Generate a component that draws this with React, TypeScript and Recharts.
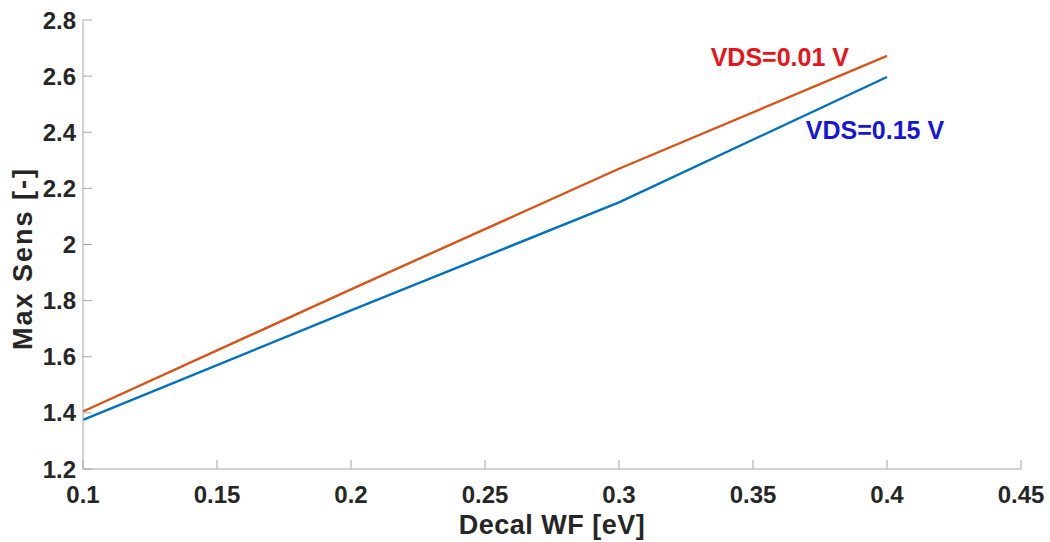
import { LineChart, Line, XAxis, YAxis, ReferenceDot, Label } from "recharts";

const decalWF = [0.1, 0.2, 0.3, 0.4];
const sensVds001 = [1.405, 1.84, 2.27, 2.672];
const sensVds015 = [1.375, 1.765, 2.15, 2.597];
const xTicks = [0.1, 0.15, 0.2, 0.25, 0.3, 0.35, 0.4, 0.45];
const yTicks = [1.2, 1.4, 1.6, 1.8, 2, 2.2, 2.4, 2.6, 2.8];

const data = decalWF.map((x, i) => ({ x, a: sensVds001[i], b: sensVds015[i] }));

const AXIS = "#a6a6a6";
const TEXT = "#262626";
const FONT = "'Liberation Sans', Arial, sans-serif";
const TICK_LEN = 9;

const fmt = (v: number) => String(+v.toFixed(2));

function BottomTick({ x, y, payload }: any) {
  return (
    <g>
      <line x1={x} x2={x} y1={y} y2={y - TICK_LEN} stroke={AXIS} />
      <text x={x} y={y + 25} textAnchor="middle" dominantBaseline="central" fill={TEXT} fontFamily={FONT} fontWeight="bold" fontSize={24}>
        {fmt(payload.value)}
      </text>
    </g>
  );
}

function LeftTick({ x, y, payload }: any) {
  return (
    <g>
      <line x1={x} x2={x + TICK_LEN} y1={y} y2={y} stroke={AXIS} />
      <text x={x - 7} y={y} textAnchor="end" dominantBaseline="central" fill={TEXT} fontFamily={FONT} fontWeight="bold" fontSize={24}>
        {fmt(payload.value)}
      </text>
    </g>
  );
}

function TopTick({ x, y }: any) {
  return <line x1={x} x2={x} y1={y} y2={y + TICK_LEN} stroke={AXIS} />;
}

function RightTick({ x, y }: any) {
  return <line x1={x} x2={x - TICK_LEN} y1={y} y2={y} stroke={AXIS} />;
}

function XTitle({ viewBox }: any) {
  const cx = viewBox.x + viewBox.width / 2;
  return (
    <text x={cx} y={viewBox.y + 56} textAnchor="middle" dominantBaseline="central" fill={TEXT} fontFamily={FONT} fontWeight="bold" fontSize={27} letterSpacing={0.5}>
      Decal WF [eV]
    </text>
  );
}

function YTitle({ viewBox }: any) {
  const cy = viewBox.y + viewBox.height / 2 + 14;
  return (
    <text transform={`translate(23, ${cy}) rotate(-90)`} textAnchor="middle" dominantBaseline="central" fill={TEXT} fontFamily={FONT} fontWeight="bold" fontSize={27} letterSpacing={2}>
      Max Sens [-]
    </text>
  );
}

export default function App() {
  return (
    <div style={{ position: "absolute", left: 0, top: 0, width: 1050, height: 542, background: "#fff" }}>
      <LineChart width={1050} height={542} data={data} margin={{ top: 20, right: 29, bottom: 0, left: 0 }}>
        <XAxis
          dataKey="x"
          type="number"
          domain={[0.1, 0.45]}
          ticks={xTicks}
          height={73}
          stroke={AXIS}
          tickSize={0}
          tickMargin={0}
          tickLine={false}
          tick={<BottomTick />}
          interval={0}
        >
          <Label content={<XTitle />} />
        </XAxis>
        <XAxis
          xAxisId="top"
          dataKey="x"
          type="number"
          orientation="top"
          domain={[0.1, 0.45]}
          ticks={xTicks}
          height={0}
          stroke={AXIS}
          tickSize={0}
          tickMargin={0}
          tickLine={false}
          tick={<TopTick />}
          interval={0}
        />
        <YAxis
          type="number"
          domain={[1.2, 2.8]}
          ticks={yTicks}
          width={83}
          stroke={AXIS}
          tickSize={0}
          tickMargin={0}
          tickLine={false}
          tick={<LeftTick />}
          interval={0}
        >
          <Label content={<YTitle />} />
        </YAxis>
        <YAxis
          yAxisId="right"
          orientation="right"
          type="number"
          domain={[1.2, 2.8]}
          ticks={yTicks}
          width={0}
          stroke={AXIS}
          tickSize={0}
          tickMargin={0}
          tickLine={false}
          tick={<RightTick />}
          interval={0}
        />
        <Line dataKey="a" stroke="#D95319" strokeWidth={2.4} dot={false} isAnimationActive={false} />
        <Line dataKey="b" stroke="#0072BD" strokeWidth={2.4} dot={false} isAnimationActive={false} />
        <ReferenceDot
          x={0.36}
          y={2.668}
          r={0}
          fill="none"
          stroke="none"
          label={{ value: "VDS=0.01 V", position: "center", fill: "#e8141b", fontFamily: FONT, fontWeight: "bold", fontSize: 25 }}
        />
        <ReferenceDot
          x={0.3955}
          y={2.408}
          r={0}
          fill="none"
          stroke="none"
          label={{ value: "VDS=0.15 V", position: "center", fill: "#1616d6", fontFamily: FONT, fontWeight: "bold", fontSize: 25 }}
        />
      </LineChart>
    </div>
  );
}
